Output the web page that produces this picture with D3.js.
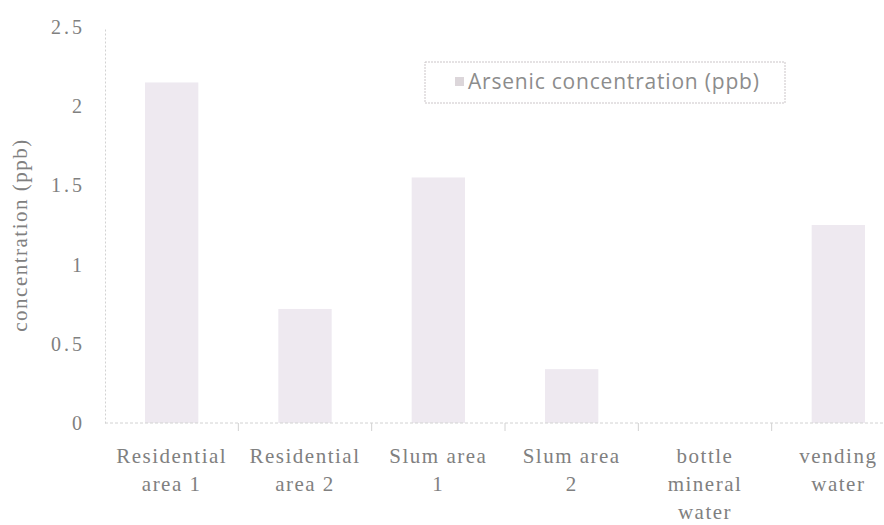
<!DOCTYPE html>
<html>
<head>
<meta charset="utf-8">
<script src="https://cdn.jsdelivr.net/npm/d3@7"></script>
<style>
  html, body { margin: 0; padding: 0; background: #fff; }
  svg { display: block; }
</style>
</head>
<body>
<svg id="chart" width="884" height="525"></svg>
<script>
// Arsenic concentration measured at each sampling site (ppb)
const categories = [
  ["Residential", "area 1"],
  ["Residential", "area 2"],
  ["Slum area", "1"],
  ["Slum area", "2"],
  ["bottle", "mineral", "water"],
  ["vending", "water"]
];
const arsenicValues = [2.15, 0.72, 1.55, 0.34, 0, 1.25];
const yTicks = [0, 0.5, 1, 1.5, 2, 2.5];
const seriesName = "Arsenic concentration (ppb)";
const yTitle = "concentration (ppb)";

const svg = d3.select("#chart");
const margin = { left: 105, top: 27, bottom: 423 };
const plotRight = 905;

const x = d3.scaleBand()
  .domain(d3.range(categories.length))
  .range([margin.left, plotRight])
  .paddingInner(0.6)
  .paddingOuter(0.3);

const y = d3.scaleLinear().domain([0, 2.5]).range([margin.bottom, margin.top]);

const textGray = "#808080";
const axisGray = "#d2d2d2";
const barFill = "#eee9f0";
const serif = "'Liberation Serif', 'DejaVu Serif', serif";

// bars
svg.append("g")
  .selectAll("rect")
  .data(arsenicValues)
  .join("rect")
  .attr("x", (d, i) => x(i))
  .attr("y", d => y(d))
  .attr("width", x.bandwidth())
  .attr("height", d => y(0) - y(d))
  .attr("fill", barFill);

// y axis
const yAxis = d3.axisLeft(y).tickValues(yTicks).tickSize(0).tickPadding(20)
  .tickFormat(d => String(d));
const gy = svg.append("g").attr("transform", `translate(${margin.left},0)`).call(yAxis);
gy.select(".domain").attr("stroke", axisGray).attr("stroke-dasharray", "2,2");
gy.selectAll("text")
  .attr("fill", textGray)
  .attr("font-family", serif)
  .attr("font-size", 20)
  .attr("letter-spacing", "3px");

// x axis with ticks at category boundaries
const gx = svg.append("g").attr("transform", `translate(0,${margin.bottom})`);
gx.append("line")
  .attr("x1", margin.left).attr("x2", plotRight)
  .attr("stroke", axisGray).attr("stroke-dasharray", "3,2");
const step = x.step();
gx.selectAll("line.tick")
  .data(d3.range(1, categories.length))
  .join("line")
  .attr("class", "tick")
  .attr("x1", i => x(i) - x.paddingInner() * step / 2)
  .attr("x2", i => x(i) - x.paddingInner() * step / 2)
  .attr("y1", 0).attr("y2", 8)
  .attr("stroke", axisGray);

const labels = gx.selectAll("text.cat")
  .data(categories)
  .join("text")
  .attr("class", "cat")
  .attr("text-anchor", "middle")
  .attr("fill", textGray)
  .attr("font-family", serif)
  .attr("font-size", 21)
  .attr("letter-spacing", "1.5px")
  .attr("transform", (d, i) => `translate(${x(i) + x.bandwidth() / 2},0)`);
labels.selectAll("tspan")
  .data(d => d)
  .join("tspan")
  .attr("x", 0)
  .attr("y", (d, j) => 40 + j * 28)
  .text(d => d);

// y axis title
svg.append("text")
  .attr("transform", "translate(27,235) rotate(-90)")
  .attr("text-anchor", "middle")
  .attr("fill", textGray)
  .attr("font-family", serif)
  .attr("font-size", 21)
  .attr("letter-spacing", "1.5px")
  .text(yTitle);

// legend
const legend = svg.append("g").attr("transform", "translate(425,62)");
legend.append("rect")
  .attr("width", 360).attr("height", 41)
  .attr("fill", "#fff")
  .attr("stroke", "#cbc5c8")
  .attr("stroke-dasharray", "2,1");
legend.append("rect")
  .attr("x", 30).attr("y", 15).attr("width", 9).attr("height", 9)
  .attr("fill", "#dcd6da");
legend.append("text")
  .attr("x", 43).attr("y", 27)
  .attr("fill", "#8c8c8c")
  .attr("font-family", "'Open Sans', 'Noto Sans', sans-serif")
  .attr("font-size", 21)
  .attr("letter-spacing", "0.8px")
  .text(seriesName);
</script>
</body>
</html>
